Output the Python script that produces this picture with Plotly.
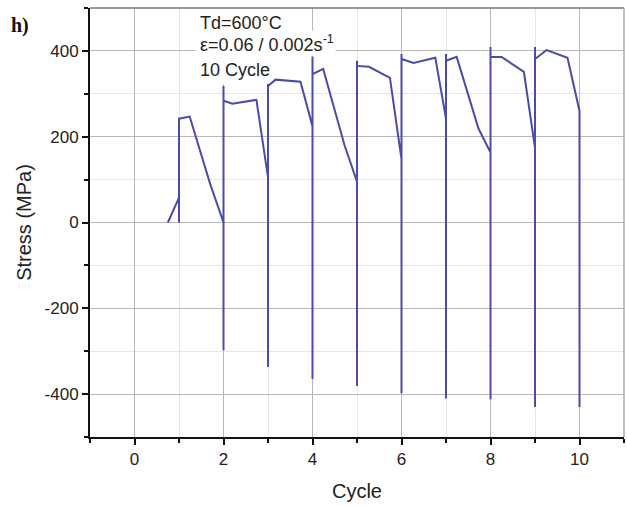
import plotly.graph_objects as go

# Stress path over cycles
cycle = [0.75, 1.0, 1.0, 1.0, 1.24, 1.7, 2.0,
         2.0, 2.0, 2.0, 2.2, 2.74, 3.0,
         3.0, 3.0, 3.0, 3.17, 3.73, 4.0,
         4.0, 4.0, 4.0, 4.24, 4.72, 5.0,
         5.0, 5.0, 5.0, 5.27, 5.74, 6.0,
         6.0, 6.0, 6.0, 6.27, 6.76, 7.0,
         7.0, 7.0, 7.0, 7.24, 7.73, 8.0,
         8.0, 8.0, 8.0, 8.25, 8.75, 9.0,
         9.0, 9.0, 9.0, 9.26, 9.73, 10.0,
         10.0]
stress = [0, 58, 0, 242, 247, 90, 0,
          -298, 318, 284, 277, 286, 105,
          -337, 323, 318, 333, 328, 224,
          -365, 388, 346, 358, 180, 95,
          -381, 377, 365, 363, 337, 148,
          -398, 393, 381, 372, 384, 242,
          -410, 393, 377, 386, 219, 163,
          -412, 409, 386, 386, 351, 174,
          -430, 409, 381, 402, 384, 260,
          -430]

x_ticks = [0, 2, 4, 6, 8, 10]
y_ticks = [-400, -200, 0, 200, 400]

info_lines = ["Td=600°C", "ε=0.06 / 0.002s<sup>-1</sup>", "10 Cycle"]

FONT = "Liberation Sans, Arial, sans-serif"
LINE = "#4B4BAA"

fig = go.Figure()
fig.add_trace(go.Scatter(x=cycle, y=stress, mode="lines",
                         line=dict(color=LINE, width=2), showlegend=False,
                         hoverinfo="skip"))

fig.update_layout(
    width=627, height=506,
    margin=dict(l=90, r=3, t=8, b=69),
    paper_bgcolor="white", plot_bgcolor="white",
    font=dict(family=FONT, color="#222", size=17),
    showlegend=False,
)

fig.update_xaxes(
    range=[-1, 11], tickvals=x_ticks, ticktext=[str(v) for v in x_ticks],
    showgrid=True, gridcolor="#b8b8b8", gridwidth=1,
    zeroline=False, showline=True, linecolor="#111", linewidth=2,
    ticks="outside", ticklen=6, tickwidth=2, tickcolor="#111",
    tickfont=dict(size=17, family=FONT, color="#222"),
    minor=dict(dtick=1, tick0=1, showgrid=True, gridcolor="#e6e6e6",
               ticks="outside", ticklen=4, tickwidth=2, tickcolor="#111"),
    title=dict(text="Cycle", font=dict(size=20, family=FONT, color="#222"), standoff=16),
)
fig.update_yaxes(
    range=[-500, 500], tickvals=y_ticks, ticktext=[str(v) for v in y_ticks],
    showgrid=True, gridcolor="#b8b8b8", gridwidth=1,
    zeroline=False, showline=True, linecolor="#111", linewidth=2,
    ticks="outside", ticklen=6, tickwidth=2, tickcolor="#111",
    tickfont=dict(size=17, family=FONT, color="#222"),
    minor=dict(dtick=100, tick0=100, showgrid=True, gridcolor="#e6e6e6",
               ticks="outside", ticklen=4, tickwidth=2, tickcolor="#111"),
    title=dict(text="Stress (MPa)", font=dict(size=20, family=FONT, color="#222"), standoff=8),
)

# frame top and right
fig.add_shape(type="line", xref="paper", yref="paper", x0=0, x1=1, y0=1, y1=1,
              line=dict(color="#777", width=1.5))
fig.add_shape(type="line", xref="paper", yref="paper", x0=1, x1=1, y0=0, y1=1,
              line=dict(color="#aaa", width=1.5))

# white background behind info text
fig.add_shape(type="rect", xref="x", yref="y", x0=1.37, x1=3.75, y0=322, y1=500,
              fillcolor="white", line=dict(width=0), layer="between")

ys = [466, 418, 355]
for t, yv in zip(info_lines, ys):
    fig.add_annotation(x=1.42, y=yv, xref="x", yref="y", text=t, showarrow=False,
                       xanchor="left", yanchor="middle", bgcolor="white",
                       font=dict(size=18, family=FONT, color="#222"))

fig.add_annotation(x=-0.152, y=0.99, xref="paper", yref="paper", text="<b>h)</b>",
                   showarrow=False, xanchor="left", yanchor="top",
                   font=dict(size=20, family="Liberation Serif, Times New Roman, serif", color="#111"))

fig.write_html("out.html")
